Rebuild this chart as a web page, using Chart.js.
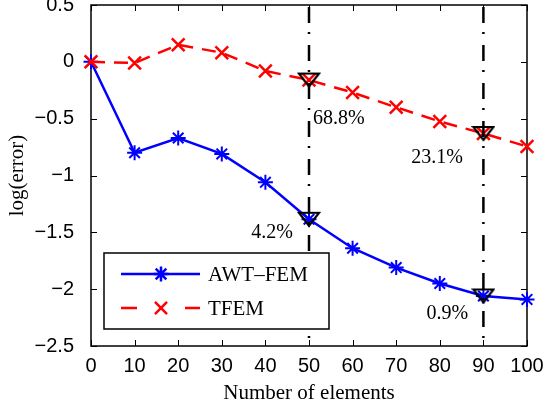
<!DOCTYPE html>
<html>
<head>
<meta charset="utf-8">
<script src="https://cdn.jsdelivr.net/npm/chart.js@4/dist/chart.umd.min.js"></script>
<style>
  html, body { margin: 0; padding: 0; background: #fff; }
  #wrap { width: 545px; height: 410px; }
</style>
</head>
<body>
<div id="wrap"><canvas id="errChart" width="545" height="410"></canvas></div>
<script>
// ─── Data ─────────────────────────────────────────────────────────────────────
const elements = [0, 10, 20, 30, 40, 50, 60, 70, 80, 90, 100];
const awtFem = [0, -0.80, -0.67, -0.81, -1.06, -1.385, -1.64, -1.81, -1.95, -2.06, -2.09];
const tfem   = [0, -0.01, 0.15, 0.08, -0.08, -0.16, -0.27, -0.40, -0.525, -0.63, -0.745];
const seriesNames = ['AWT\u2013FEM', 'TFEM'];

// marked element counts (vertical dash-dot lines + triangles)
const markedX = [50, 90];

// percentage notes, in data coordinates
const noteText  = ['68.8%', '23.1%', '4.2%', '0.9%'];
const noteX     = [50.9, 85.3, 46.3, 86.5];
const noteY     = [-0.50, -0.845, -1.505, -2.22];
const noteAlign = ['left', 'right', 'right', 'right'];

// axes
const xMin = 0, xMax = 100, xStep = 10;
const yMin = -2.5, yMax = 0.5, yStep = 0.5;

const SANS = "'Liberation Sans', Arial, Helvetica, sans-serif";
const SERIF = "'Liberation Serif', 'Times New Roman', serif";

// ─── Helpers ──────────────────────────────────────────────────────────────────
const pts = (xs, ys) => xs.map((x, i) => ({ x, y: ys[i] }));
const pickAt = (ys, xs) => xs.map(x => ({ x, y: ys[elements.indexOf(x)] }));
const fmtTick = v => String(Math.round(v * 10) / 10).replace('-', '\u2212');

// flat down-pointing triangle marker (MATLAB 'v')
function makeTriangle() {
  const c = document.createElement('canvas');
  c.width = 24; c.height = 17;
  const g = c.getContext('2d');
  g.strokeStyle = '#000';
  g.lineWidth = 2.2;
  g.lineJoin = 'miter';
  g.beginPath();
  g.moveTo(2, 2); g.lineTo(22, 2); g.lineTo(12, 15); g.closePath();
  g.stroke();
  return c;
}
const triMarker = makeTriangle();

// ─── Plugins ──────────────────────────────────────────────────────────────────
const framePlugin = {
  id: 'frame',
  beforeDatasetsDraw(chart) {
    const { ctx, chartArea: a, scales: { x, y } } = chart;
    const tick = 6;
    ctx.save();
    ctx.strokeStyle = '#000';
    ctx.lineWidth = 1.5;
    ctx.strokeRect(a.left, a.top, a.right - a.left, a.bottom - a.top);
    ctx.lineWidth = 1;
    ctx.beginPath();
    x.ticks.forEach(t => {
      const px = Math.round(x.getPixelForValue(t.value)) + 0.5;
      ctx.moveTo(px, a.bottom); ctx.lineTo(px, a.bottom - tick);
      ctx.moveTo(px, a.top); ctx.lineTo(px, a.top + tick);
    });
    y.ticks.forEach(t => {
      const py = Math.round(y.getPixelForValue(t.value)) + 0.5;
      ctx.moveTo(a.left, py); ctx.lineTo(a.left + tick, py);
      ctx.moveTo(a.right, py); ctx.lineTo(a.right - tick, py);
    });
    ctx.stroke();
    ctx.restore();
  }
};

const notesPlugin = {
  id: 'notes',
  afterDatasetsDraw(chart) {
    const { ctx, scales: { x, y } } = chart;
    ctx.save();
    ctx.fillStyle = '#000';
    ctx.font = '20px ' + SERIF;
    ctx.textBaseline = 'middle';
    noteText.forEach((t, i) => {
      ctx.textAlign = noteAlign[i];
      ctx.fillText(t, x.getPixelForValue(noteX[i]), y.getPixelForValue(noteY[i]));
    });
    ctx.restore();
  }
};

// legend box inside the plot, lower left
const legendPlugin = {
  id: 'boxLegend',
  afterDraw(chart) {
    const { ctx } = chart;
    const box = { left: 104, top: 253, right: 329, bottom: 329 };
    const rows = [
      { y: 274, color: '#0000ff', style: 'star', radius: 7.5, dashed: false },
      { y: 308, color: '#ff0000', style: 'crossRot', radius: 8.5, dashed: true },
    ];
    ctx.save();
    ctx.fillStyle = '#fff';
    ctx.fillRect(box.left, box.top, box.right - box.left, box.bottom - box.top);
    ctx.strokeStyle = '#000';
    ctx.lineWidth = 1.5;
    ctx.strokeRect(box.left, box.top, box.right - box.left, box.bottom - box.top);

    rows.forEach((r, i) => {
      ctx.strokeStyle = r.color;
      ctx.lineWidth = 2.5;
      ctx.beginPath();
      if (r.dashed) {
        ctx.moveTo(121, r.y); ctx.lineTo(137, r.y);
        ctx.moveTo(185, r.y); ctx.lineTo(200, r.y);
      } else {
        ctx.moveTo(121, r.y); ctx.lineTo(200, r.y);
      }
      ctx.stroke();
      Chart.helpers.drawPoint(ctx, { pointStyle: r.style, radius: r.radius, rotation: 0, borderWidth: 2.5 }, 161, r.y);
      ctx.fillStyle = '#000';
      ctx.font = '21px ' + SERIF;
      ctx.textAlign = 'left';
      ctx.textBaseline = 'middle';
      ctx.fillText(seriesNames[i], 208, r.y + 1);
    });
    ctx.restore();
  }
};

// ─── Chart ────────────────────────────────────────────────────────────────────
const vline = xv => [{ x: xv, y: yMax }, { x: xv, y: yMin }];

new Chart(document.getElementById('errChart'), {
  type: 'line',
  data: {
    datasets: [
      {
        label: 'marks TFEM', data: pickAt(tfem, markedX), order: 0,
        showLine: false, pointStyle: triMarker, clip: false
      },
      {
        label: 'marks AWT', data: pickAt(awtFem, markedX), order: 0,
        showLine: false, pointStyle: triMarker, clip: false
      },
      ...markedX.map(xv => ({
        label: 'line ' + xv, data: vline(xv), order: 1,
        borderColor: '#000', borderWidth: 2.5, borderDash: [16, 9, 2, 11],
        borderDashOffset: -2, pointRadius: 0, clip: false
      })),
      {
        label: seriesNames[1], data: pts(elements, tfem), order: 2,
        borderColor: '#ff0000', borderWidth: 2.5, borderDash: [14, 9],
        pointStyle: 'crossRot', pointRadius: 9, pointBorderWidth: 2.5,
        pointBorderColor: '#ff0000', clip: false
      },
      {
        label: seriesNames[0], data: pts(elements, awtFem), order: 3,
        borderColor: '#0000ff', borderWidth: 2.5,
        pointStyle: 'star', pointRadius: 7.5, pointBorderWidth: 2,
        pointBorderColor: '#0000ff', clip: false
      },
    ]
  },
  options: {
    responsive: false,
    animation: false,
    events: [],
    layout: { autoPadding: false, padding: { left: 0, right: 18, top: 5, bottom: 0 } },
    plugins: { legend: { display: false }, tooltip: { enabled: false } },
    scales: {
      x: {
        type: 'linear', min: xMin, max: xMax,
        grid: { display: false }, border: { display: false },
        ticks: { stepSize: xStep, color: '#000', padding: 0, maxRotation: 0, font: { family: SANS, size: 20 } },
        title: { display: true, text: 'Number of elements', color: '#000', padding: { top: 0, bottom: 4 }, font: { family: SERIF, size: 21 } },
        afterFit: s => { s.height = 64; s.paddingLeft = 0; s.paddingRight = 0; }
      },
      y: {
        type: 'linear', min: yMin, max: yMax,
        grid: { display: false }, border: { display: false },
        ticks: { stepSize: yStep, color: '#000', padding: 9, font: { family: SANS, size: 20 }, callback: fmtTick },
        title: { display: true, text: 'log(error)', color: '#000', padding: { top: 5, bottom: 0 }, font: { family: SERIF, size: 21 } },
        afterFit: s => { s.width = 91; s.paddingTop = 0; s.paddingBottom = 0; }
      }
    }
  },
  plugins: [framePlugin, notesPlugin, legendPlugin]
});
</script>
</body>
</html>
